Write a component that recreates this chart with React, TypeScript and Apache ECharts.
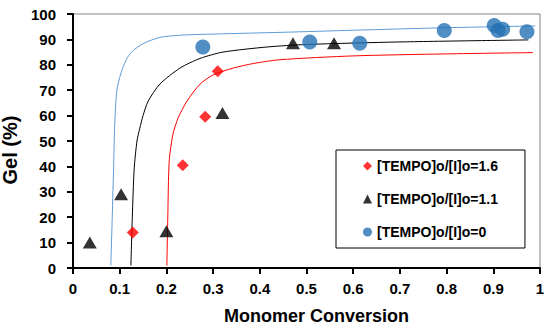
import React, { useEffect, useRef } from "react";
import * as echarts from "echarts";

const redPoints: [number, number][] = [
  [0.128, 14], [0.235, 40.5], [0.283, 59.5], [0.31, 77.5],
];
const blackPoints: [number, number][] = [
  [0.036, 10], [0.103, 29], [0.2, 14.5], [0.32, 61], [0.471, 88.5], [0.559, 88.5],
];
const bluePoints: [number, number][] = [
  [0.278, 87], [0.507, 89], [0.614, 88.5], [0.795, 93.5], [0.902, 95.5], [0.91, 93.5], [0.92, 94], [0.972, 93],
];

const blueCurve: [number, number][] = [
  [0.081, 1], [0.084, 20], [0.087, 40], [0.089, 55], [0.091, 63], [0.094, 70], [0.1, 75], [0.107, 79],
  [0.117, 83], [0.128, 85.5], [0.15, 88.3], [0.186, 90.8], [0.236, 91.7], [0.3, 92.1], [0.45, 92.8],
  [0.6, 93.6], [0.8, 94.6], [0.99, 95.3],
];
const blackCurve: [number, number][] = [
  [0.124, 1], [0.127, 20], [0.131, 39], [0.137, 50], [0.143, 55], [0.15, 60], [0.161, 65.7],
  [0.186, 72.4], [0.229, 78.7], [0.272, 82.5], [0.321, 85], [0.415, 87], [0.5, 88], [0.7, 89], [0.975, 89.8],
];
const redCurve: [number, number][] = [
  [0.201, 1], [0.203, 20], [0.206, 42], [0.214, 52.7], [0.225, 59], [0.244, 65.7], [0.272, 72.4],
  [0.3, 76], [0.343, 78.7], [0.386, 80.5], [0.443, 82], [0.6, 83.5], [0.8, 84.3], [0.985, 84.8],
];

const seriesNames = ["[TEMPO]o/[I]o=1.6", "[TEMPO]o/[I]o=1.1", "[TEMPO]o/[I]o=0"];

const FONT = "Arial, 'Liberation Sans', sans-serif";

export default function App() {
  const ref = useRef<HTMLDivElement>(null);
  useEffect(() => {
    if (!ref.current) return;
    const chart = echarts.init(ref.current, undefined, { renderer: "svg" });
    const lineSeries = (data: [number, number][], color: string) => ({
      type: "line",
      data,
      showSymbol: false,
      smooth: 0.25,
      lineStyle: { color, width: 1 },
      z: 2,
      silent: true,
    });
    chart.setOption({
      animation: false,
      backgroundColor: "#fff",
      grid: {
        left: 73, right: 10, top: 14, bottom: 62,
        outerBoundsMode: "none", containLabel: false,
        show: true, borderColor: "#808080", borderWidth: 1,
      },
      xAxis: {
        type: "value", min: 0, max: 1, interval: 0.1,
        name: "Monomer Conversion", nameLocation: "middle", nameGap: 39,
        nameTextStyle: { fontFamily: FONT, fontWeight: "bold", fontSize: 18, color: "#000", padding: [0, 0, 0, 20] },
        axisLine: { lineStyle: { color: "#000", width: 2 } },
        axisTick: { show: true, inside: false, length: 6, lineStyle: { color: "#000", width: 2 } },
        axisLabel: { fontFamily: FONT, fontWeight: "bold", fontSize: 15, color: "#000", margin: 13 },
        splitLine: { show: false },
      },
      yAxis: {
        type: "value", min: 0, max: 100, interval: 10,
        name: "Gel (%)", nameLocation: "middle", nameGap: 49,
        nameTextStyle: { fontFamily: FONT, fontWeight: "bold", fontSize: 20, color: "#000", padding: [0, 18, 0, 0] },
        axisLine: { lineStyle: { color: "#000", width: 2 } },
        axisTick: { show: true, inside: false, length: 6, lineStyle: { color: "#000", width: 2 } },
        axisLabel: { fontFamily: FONT, fontWeight: "bold", fontSize: 15, color: "#000", margin: 17 },
        splitLine: { show: false },
      },
      legend: {
        orient: "vertical", left: 336, top: 150,
        padding: [9, 27, 9, 27], itemGap: 19,
        itemWidth: 9, itemHeight: 9,
        backgroundColor: "#fff", borderColor: "#000", borderWidth: 1,
        textStyle: { fontFamily: FONT, fontWeight: "bold", fontSize: 14, color: "#000" },
        data: [
          { name: seriesNames[0], icon: "diamond" },
          { name: seriesNames[1], icon: "triangle" },
          { name: seriesNames[2], icon: "circle" },
        ],
      },
      series: [
        lineSeries(blueCurve, "#5b9bd5"),
        lineSeries(blackCurve, "#000000"),
        lineSeries(redCurve, "#ff0000"),
        {
          name: seriesNames[0], type: "scatter", data: redPoints, symbol: "diamond", symbolSize: 12,
          itemStyle: { color: "#ff0000" }, z: 3,
        },
        {
          name: seriesNames[1], type: "scatter", data: blackPoints, symbol: "triangle", symbolSize: [14, 12],
          itemStyle: { color: "#000000" }, z: 3,
        },
        {
          name: seriesNames[2], type: "scatter", data: bluePoints, symbol: "circle", symbolSize: 15,
          itemStyle: { color: "#2472b4" }, z: 3,
        },
      ],
    });
    return () => chart.dispose();
  }, []);
  return <div ref={ref} style={{ width: 550, height: 330, position: "absolute", left: 0, top: 0 }} />;
}
